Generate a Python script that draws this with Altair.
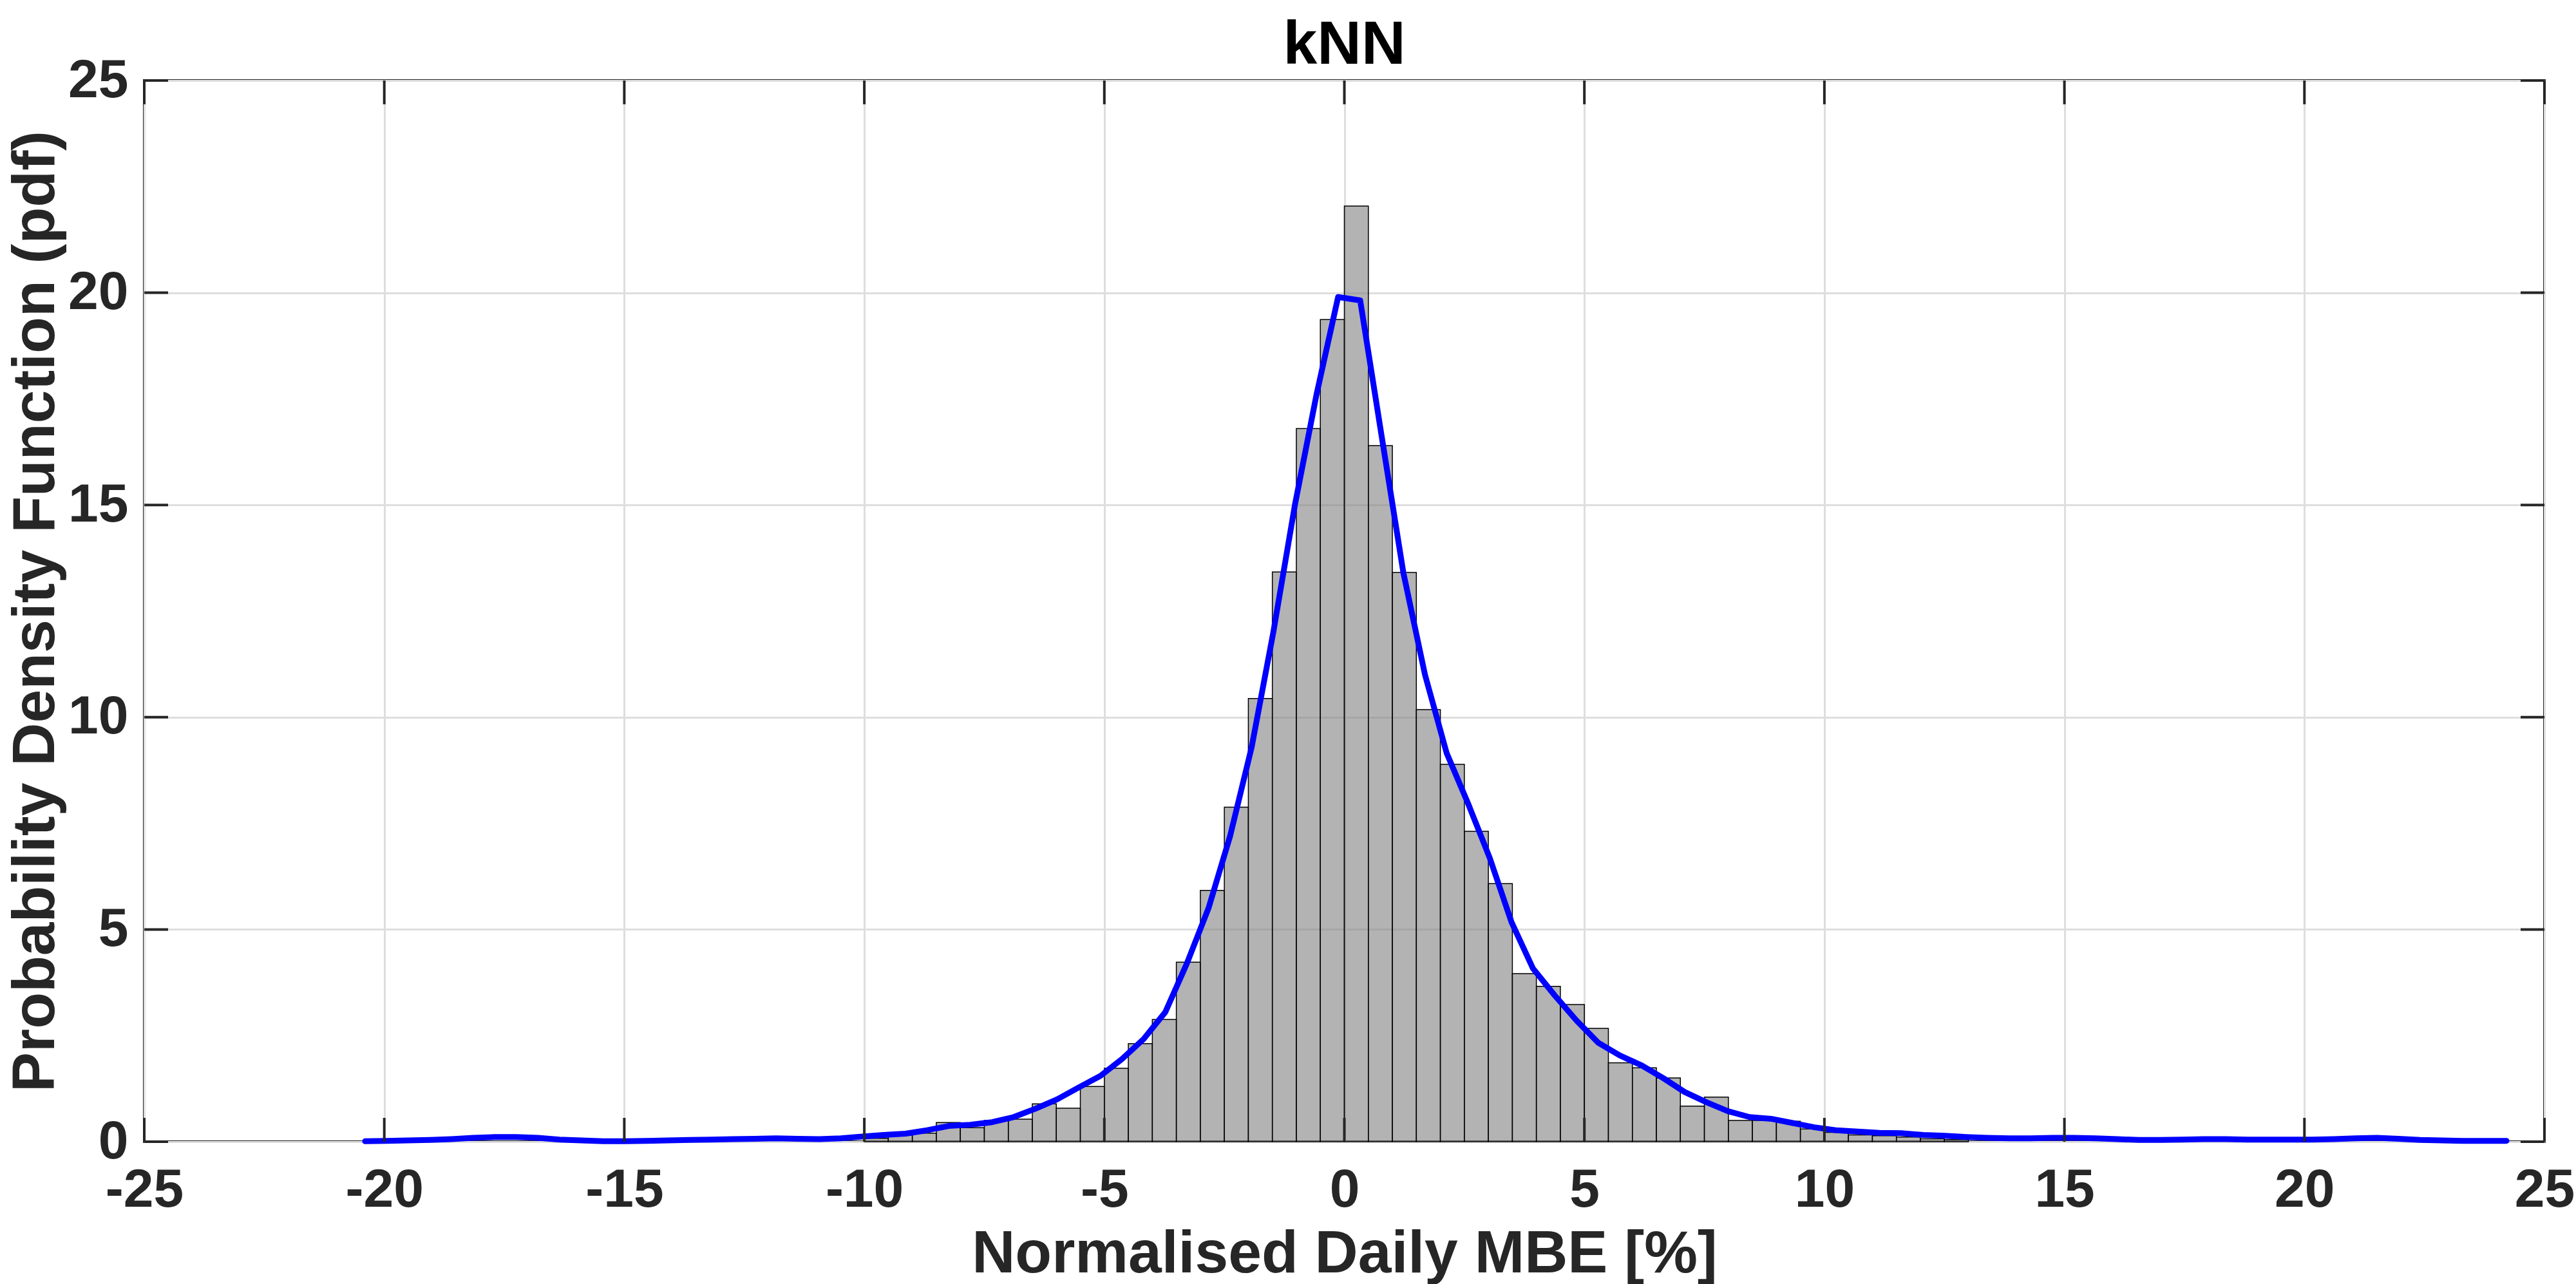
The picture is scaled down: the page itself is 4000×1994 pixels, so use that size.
import altair as alt
import pandas as pd

# Histogram bins (left edges, width 0.5) and pdf heights
bin_left = [-10.0, -9.5, -9.0, -8.5, -8.0, -7.5, -7.0, -6.5, -6.0, -5.5, -5.0, -4.5,
            -4.0, -3.5, -3.0, -2.5, -2.0, -1.5, -1.0, -0.5, 0.0, 0.5, 1.0, 1.5,
            2.0, 2.5, 3.0, 3.5, 4.0, 4.5, 5.0, 5.5, 6.0, 6.5, 7.0, 7.5,
            8.0, 8.5, 9.0, 9.5, 10.0, 10.5, 11.0, 11.5, 12.0, 12.5]
bin_height = [0.08, 0.15, 0.20, 0.45, 0.33, 0.50, 0.53, 0.89, 0.79, 1.30, 1.73, 2.31,
              2.88, 4.23, 5.92, 7.88, 10.44, 13.42, 16.80, 19.37, 22.04, 16.40, 13.41, 10.18,
              8.89, 7.31, 6.08, 3.96, 3.66, 3.23, 2.67, 1.86, 1.74, 1.50, 0.84, 1.05,
              0.50, 0.50, 0.48, 0.30, 0.22, 0.16, 0.14, 0.11, 0.07, 0.05]
bin_width = 0.5

# Kernel density curve
kde_x = [-20.40, -19.95, -19.50, -19.05, -18.60, -18.15, -17.70, -17.25, -16.80, -16.35,
         -15.90, -15.44, -14.99, -14.54, -14.09, -13.64, -13.19, -12.74, -12.29, -11.84,
         -11.39, -10.94, -10.49, -10.04, -9.59, -9.14, -8.69, -8.24, -7.79, -7.34,
         -6.89, -6.43, -5.98, -5.53, -5.08, -4.63, -4.18, -3.73, -3.28, -2.83,
         -2.38, -1.93, -1.48, -1.03, -0.58, -0.13, 0.33, 0.78, 1.23, 1.68,
         2.13, 2.58, 3.03, 3.48, 3.93, 4.38, 4.84, 5.29, 5.74, 6.19,
         6.64, 7.09, 7.54, 7.99, 8.44, 8.89, 9.34, 9.79, 10.24, 10.69,
         11.14, 11.59, 12.05, 12.50, 12.95, 13.40, 13.85, 14.30, 14.75, 15.20,
         15.65, 16.10, 16.55, 17.00, 17.45, 17.91, 18.36, 18.81, 19.26, 19.71,
         20.16, 20.61, 21.06, 21.51, 21.96, 22.41, 22.86, 23.31, 23.76, 24.21]
kde_y = [0.01, 0.02, 0.03, 0.04, 0.06, 0.09, 0.11, 0.11, 0.09, 0.05,
         0.03, 0.01, 0.01, 0.02, 0.03, 0.04, 0.05, 0.06, 0.07, 0.08,
         0.07, 0.06, 0.08, 0.12, 0.16, 0.19, 0.27, 0.37, 0.40, 0.46,
         0.58, 0.78, 1.00, 1.28, 1.55, 1.95, 2.42, 3.05, 4.20, 5.50,
         7.20, 9.30, 12.00, 15.00, 17.60, 19.90, 19.82, 16.60, 13.40, 11.00,
         9.16, 7.96, 6.68, 5.18, 4.08, 3.45, 2.85, 2.33, 2.03, 1.80,
         1.50, 1.17, 0.93, 0.72, 0.58, 0.54, 0.44, 0.34, 0.27, 0.24,
         0.21, 0.20, 0.16, 0.14, 0.11, 0.09, 0.08, 0.08, 0.09, 0.09,
         0.08, 0.06, 0.04, 0.04, 0.05, 0.06, 0.06, 0.05, 0.05, 0.05,
         0.05, 0.06, 0.08, 0.09, 0.07, 0.04, 0.03, 0.02, 0.02, 0.02]

x_ticks = [-25, -20, -15, -10, -5, 0, 5, 10, 15, 20, 25]
y_ticks = [0, 5, 10, 15, 20, 25]

W, H = 3727, 1648
TICK = 37
DARK = "#262626"
FONT = "Liberation Sans"

bins = pd.DataFrame({"x0": bin_left,
                     "x1": [b + bin_width for b in bin_left],
                     "h": bin_height})
kde = pd.DataFrame({"x": kde_x, "y": kde_y})
xt = pd.DataFrame({"v": x_ticks})
yt = pd.DataFrame({"v": y_ticks})

xscale = alt.Scale(domain=[-25, 25], nice=False, zero=False)
yscale = alt.Scale(domain=[0, 25], nice=False)

xaxis = alt.Axis(values=x_ticks, title="Normalised Daily MBE [%]", grid=True,
                 ticks=False, domain=False, labelPadding=34, titlePadding=12,
                 labelExpr="datum.value + ''", labelLimit=0, labelOverlap=False,
                 labelFlush=False)
yaxis = alt.Axis(values=y_ticks, title="Probability Density Function (pdf)", grid=True,
                 ticks=False, domain=False, labelPadding=25, titlePadding=2,
                 labelExpr="datum.value + ''", labelLimit=0, labelOverlap=False,
                 labelFlush=False)

bars = alt.Chart(bins).mark_rect(
    fill="#808080", fillOpacity=0.6, stroke="#000000", strokeWidth=1.5
).encode(
    x=alt.X("x0:Q", scale=xscale, axis=xaxis),
    x2="x1:Q",
    y=alt.Y("h:Q", scale=yscale, axis=yaxis),
    y2=alt.datum(0),
)

line = alt.Chart(kde).mark_line(
    color="#0000ff", strokeWidth=9, strokeJoin="round", strokeCap="round"
).encode(
    x=alt.X("x:Q", scale=xscale),
    y=alt.Y("y:Q", scale=yscale),
)

tick_bottom = alt.Chart(xt).mark_rule(color=DARK, strokeWidth=4).encode(
    x=alt.X("v:Q", scale=xscale), y=alt.value(H), y2=alt.value(H - TICK))
tick_top = alt.Chart(xt).mark_rule(color=DARK, strokeWidth=4).encode(
    x=alt.X("v:Q", scale=xscale), y=alt.value(0), y2=alt.value(TICK))
tick_left = alt.Chart(yt).mark_rule(color=DARK, strokeWidth=4).encode(
    y=alt.Y("v:Q", scale=yscale), x=alt.value(0), x2=alt.value(TICK))
tick_right = alt.Chart(yt).mark_rule(color=DARK, strokeWidth=4).encode(
    y=alt.Y("v:Q", scale=yscale), x=alt.value(W), x2=alt.value(W - TICK))

chart = alt.layer(bars, line, tick_bottom, tick_top, tick_left, tick_right).properties(
    width=W, height=H,
    title=alt.TitleParams("kNN", fontSize=95, font=FONT, fontWeight="bold",
                          color="#000000", anchor="middle", offset=8, frame="group",
                          dy=44),
    autosize=alt.AutoSizeParams(type="none"),
    padding={"left": 224, "top": 125, "right": 49, "bottom": 221},
    background="white",
).configure_view(
    stroke=DARK, strokeWidth=4
).configure_axis(
    labelFont=FONT, labelFontSize=84, labelFontWeight="bold", labelColor=DARK,
    titleFont=FONT, titleFontSize=93, titleFontWeight="bold", titleColor=DARK,
    gridColor="#dedede", gridWidth=3,
)

chart.save("out.html", embed_options={"renderer": "svg", "actions": False})
